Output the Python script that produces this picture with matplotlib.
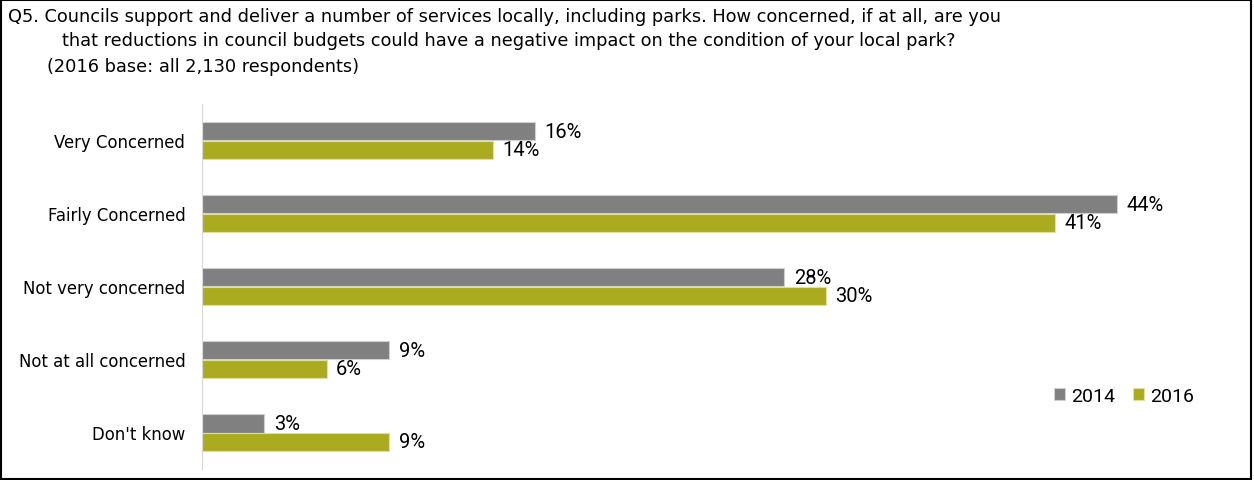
import matplotlib.pyplot as plt
import numpy as np

categories = ['Very Concerned', 'Fairly Concerned', 'Not very concerned',
              'Not at all concerned', "Don't know"]
vals_2014 = [16, 44, 28, 9, 3]
vals_2016 = [14, 41, 30, 6, 9]
years = ['2014', '2016']

title1 = ('Q5. Councils support and deliver a number of services locally, '
          'including parks. How concerned, if at all, are you')
title2 = ('that reductions in council budgets could have a negative impact '
          'on the condition of your local park?')
title3 = '(2016 base: all 2,130 respondents)'

col_2014 = '#808080'
col_2016 = '#abab1f'
numfont = ['Roboto', 'DejaVu Sans']

fig = plt.figure(figsize=(12.54, 4.81), dpi=100)
ax = fig.add_axes([202/1254, 11/481, 1040/1254, 365/481])

y = np.arange(len(categories))
h = 0.26
b1 = ax.barh(y - h/2, vals_2014, height=h, color=col_2014, edgecolor='#d0d0d0',
             linewidth=0.8, label=years[0])
b2 = ax.barh(y + h/2, vals_2016, height=h, color=col_2016, edgecolor='#e0e0a0',
             linewidth=0.8, label=years[1])

for bars, vals in [(b1, vals_2014), (b2, vals_2016)]:
    for bar, v in zip(bars, vals):
        ax.text(v + 0.45, bar.get_y() + bar.get_height()/2, '%d%%' % v,
                va='center', ha='left', fontsize=14.5, family=numfont)

ax.set_xlim(0, 50)
ax.set_ylim(len(categories) - 0.5, -0.5)
ax.set_yticks(y)
ax.set_yticklabels(categories, fontsize=11.9)
ax.tick_params(axis='y', length=0, pad=12)
ax.set_xticks([])
for s in ['top', 'right', 'bottom']:
    ax.spines[s].set_visible(False)
ax.spines['left'].set_color('#d9d9d9')

leg = ax.legend(loc='center left', bbox_to_anchor=(1054/1254, 1 - 397/481),
                bbox_transform=fig.transFigure, ncol=2, frameon=False,
                handlelength=0.55, handleheight=0.55, handletextpad=0.35,
                columnspacing=0.9, borderaxespad=0, borderpad=0,
                prop={'family': numfont, 'size': 14})

fig.text(8/1254, 1 - 17/481, title1, fontsize=12.8, va='center')
fig.text(62/1254, 1 - 41/481, title2, fontsize=12.8, va='center')
fig.text(47/1254, 1 - 67/481, title3, fontsize=12.8, va='center')

# outer frame
fig.patches.append(plt.Rectangle((0.001, 0.002), 0.997, 0.996, fill=False,
                                 edgecolor='black', linewidth=1.5,
                                 transform=fig.transFigure, figure=fig))

plt.savefig('out.png', dpi=100)
